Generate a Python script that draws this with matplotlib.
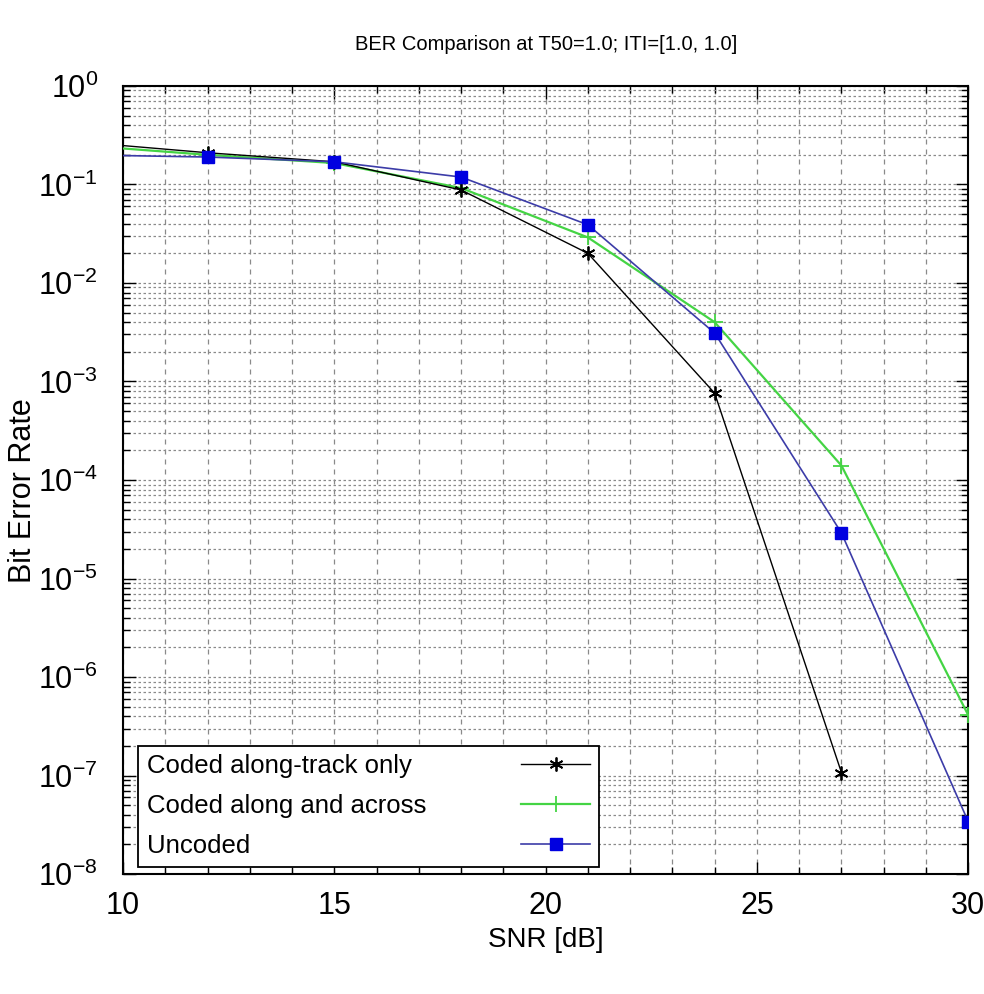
import matplotlib
matplotlib.use("Agg")
import matplotlib.pyplot as plt
from matplotlib.ticker import LogLocator, MultipleLocator, NullFormatter, FixedLocator

# Data
snr_db = [9, 12, 15, 18, 21, 24, 27, 30]
ber_along_track = [0.27, 0.21, 0.17, 0.088, 0.020, 7.6e-4, 1.07e-7, None]
ber_along_across = [0.25, 0.20, 0.165, 0.092, 0.029, 4.0e-3, 1.4e-4, 4.1e-7]
ber_uncoded = [0.20, 0.19, 0.17, 0.119, 0.039, 3.1e-3, 2.9e-5, 3.4e-8]

series_labels = ["Coded along-track only", "Coded along and across", "Uncoded"]
title_text = "BER Comparison at T50=1.0; ITI=[1.0, 1.0]"
x_label = "SNR [dB]"
y_label = "Bit Error Rate"
x_ticks = [10, 15, 20, 25, 30]

base = "Liberation Sans"
plt.rcParams["font.family"] = [base, "DejaVu Sans"]
plt.rcParams["mathtext.fontset"] = "custom"
plt.rcParams["mathtext.rm"] = base
plt.rcParams["mathtext.it"] = base

fig = plt.figure(figsize=(9.84, 9.94), dpi=100)
ax = fig.add_axes([0.125, 0.1207, 0.859, 0.7928])


def pairs(xs, ys):
    pts = [(x, y) for x, y in zip(xs, ys) if y is not None]
    return [p[0] for p in pts], [p[1] for p in pts]


x1, y1 = pairs(snr_db, ber_along_track)
x2, y2 = pairs(snr_db, ber_along_across)
x3, y3 = pairs(snr_db, ber_uncoded)

ax.plot(x1, y1, color="black", lw=1.0, marker=(6, 2, 0), ms=10, mew=1.3,
        label=series_labels[0], zorder=4)
ax.plot(x2, y2, color="#44d444", lw=1.6, marker="+", ms=11, mew=1.3,
        label=series_labels[1], zorder=3)
ax.plot(x3, y3, color="#3c3ca8", lw=1.2, marker="s", ms=9, mfc="#0000e0",
        mec="#0000e0", label=series_labels[2], zorder=5)

ax.set_yscale("log")
ax.set_xlim(10, 30)
ax.set_ylim(1e-8, 1)

ax.xaxis.set_major_locator(FixedLocator(x_ticks))
ax.xaxis.set_minor_locator(MultipleLocator(1))
ax.yaxis.set_major_locator(LogLocator(base=10, numticks=20))
ax.yaxis.set_minor_locator(LogLocator(base=10, subs=range(2, 10), numticks=20))
ax.yaxis.set_minor_formatter(NullFormatter())

ax.tick_params(which="both", direction="in", top=True, right=True)
ax.tick_params(which="major", length=9, width=1.0, labelsize=22)
ax.tick_params(which="minor", length=5, width=1.0)
ax.tick_params(axis="x", which="major", pad=12)
ax.tick_params(axis="y", which="major", pad=18)

for sp in ax.spines.values():
    sp.set_linewidth(1.5)

ax.grid(True, which="both", axis="x", color="#8a8a8a", lw=0.9, ls=(0, (4, 4)))
ax.grid(True, which="both", axis="y", color="#8a8a8a", lw=0.9, ls=(0, (2, 2)))
ax.set_axisbelow(True)

ax.set_title(title_text, fontsize=14.5, pad=26)
ax.set_xlabel(x_label, fontsize=20)
ax.set_ylabel(y_label, fontsize=22)
ax.xaxis.set_label_coords(0.5, -0.067)
ax.yaxis.set_label_coords(-0.101, 0.487)

leg = ax.legend(loc="lower left", bbox_to_anchor=(0.0178, 0.009), fontsize=18.5,
                markerfirst=False, handlelength=2.7, handletextpad=3.7,
                labelspacing=0.63, borderpad=0.33, borderaxespad=0.0,
                fancybox=False, framealpha=1.0, edgecolor="black")
leg.get_frame().set_linewidth(1.3)

# left-align the labels while keeping the line samples in one column
fig.canvas.draw()
renderer = fig.canvas.get_renderer()
widths = [t.get_window_extent(renderer).width * 72.0 / fig.dpi for t in leg.get_texts()]
column = leg._legend_handle_box.get_children()[0]
column.align = "left"
for row, w in zip(column.get_children(), widths):
    row.sep = row.sep + (max(widths) - w)

fig.savefig("out.png", dpi=100)
